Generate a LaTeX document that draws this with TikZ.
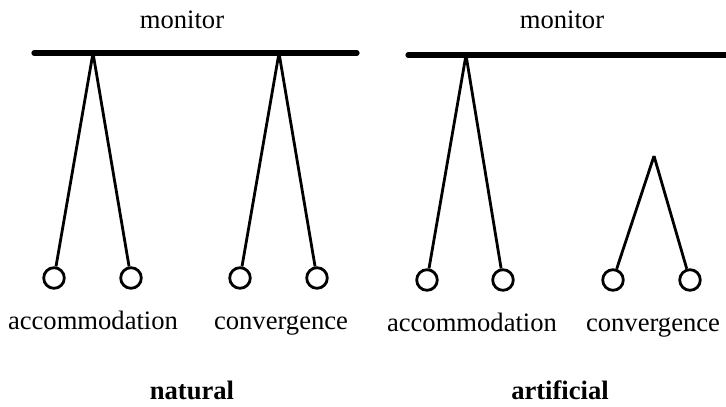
\documentclass[tikz,border=0pt]{standalone}
\usepackage{fontspec}
\setmainfont{Liberation Serif}
\usetikzlibrary{positioning}

\begin{document}
\begin{tikzpicture}[x=0.5pt, y=-0.5pt, every node/.style={font=\fontsize{13.3}{16}\selectfont, inner sep=0pt},
  bar/.style={line width=2.6pt, line cap=round},
  stem/.style={line width=1.4pt},
  leaf/.style={circle, draw, line width=1.4pt, minimum size=10.3pt},
  lbl/.style={anchor=base},
  tag/.style={anchor=base, font=\fontsize{13.3}{16}\selectfont\bfseries}]
\useasboundingbox (0,0) rectangle (726,406);
% natural
\node[lbl] (monL) at (182,29) {monitor};
\coordinate (barLa) at (34,53);
\coordinate (barLb) at (357,53);
\coordinate (apexL1) at (93,53);
\coordinate (apexL2) at (279,53);
\node[leaf] (accL1) at (54,278) {};
\node[leaf] (accL2) at (131,278) {};
\node[leaf] (conL1) at (240,278) {};
\node[leaf] (conL2) at (317,278) {};
\node[lbl] (accL) at (93,329) {accommodation};
\node[lbl] (conL) at (281,329) {convergence};
\node[tag] (nat) at (192,399) {natural};
% artificial
\node[lbl] (monR) at (562,29) {monitor};
\coordinate (barRa) at (408,55);
\coordinate (barRb) at (730,55);
\coordinate (apexR1) at (466,55);
\coordinate (apexR2) at (654,156);
\node[leaf] (accR1) at (427,280) {};
\node[leaf] (accR2) at (503,280) {};
\node[leaf] (conR1) at (613,280) {};
\node[leaf] (conR2) at (690,280) {};
\node[lbl] (accR) at (472,331) {accommodation};
\node[lbl] (conR) at (653,331) {convergence};
\node[tag] (art) at (560,399) {artificial};
% Bars
\draw[bar] (barLa) -- (barLb);
\draw[bar] (barRa) -- (barRb);
% Stems
\draw[stem] (apexL1) -- (accL1);
\draw[stem] (apexL1) -- (accL2);
\draw[stem] (apexL2) -- (conL1);
\draw[stem] (apexL2) -- (conL2);
\draw[stem] (apexR1) -- (accR1);
\draw[stem] (apexR1) -- (accR2);
\draw[stem] (apexR2) -- (conR1);
\draw[stem] (apexR2) -- (conR2);
\end{tikzpicture}
\end{document}
